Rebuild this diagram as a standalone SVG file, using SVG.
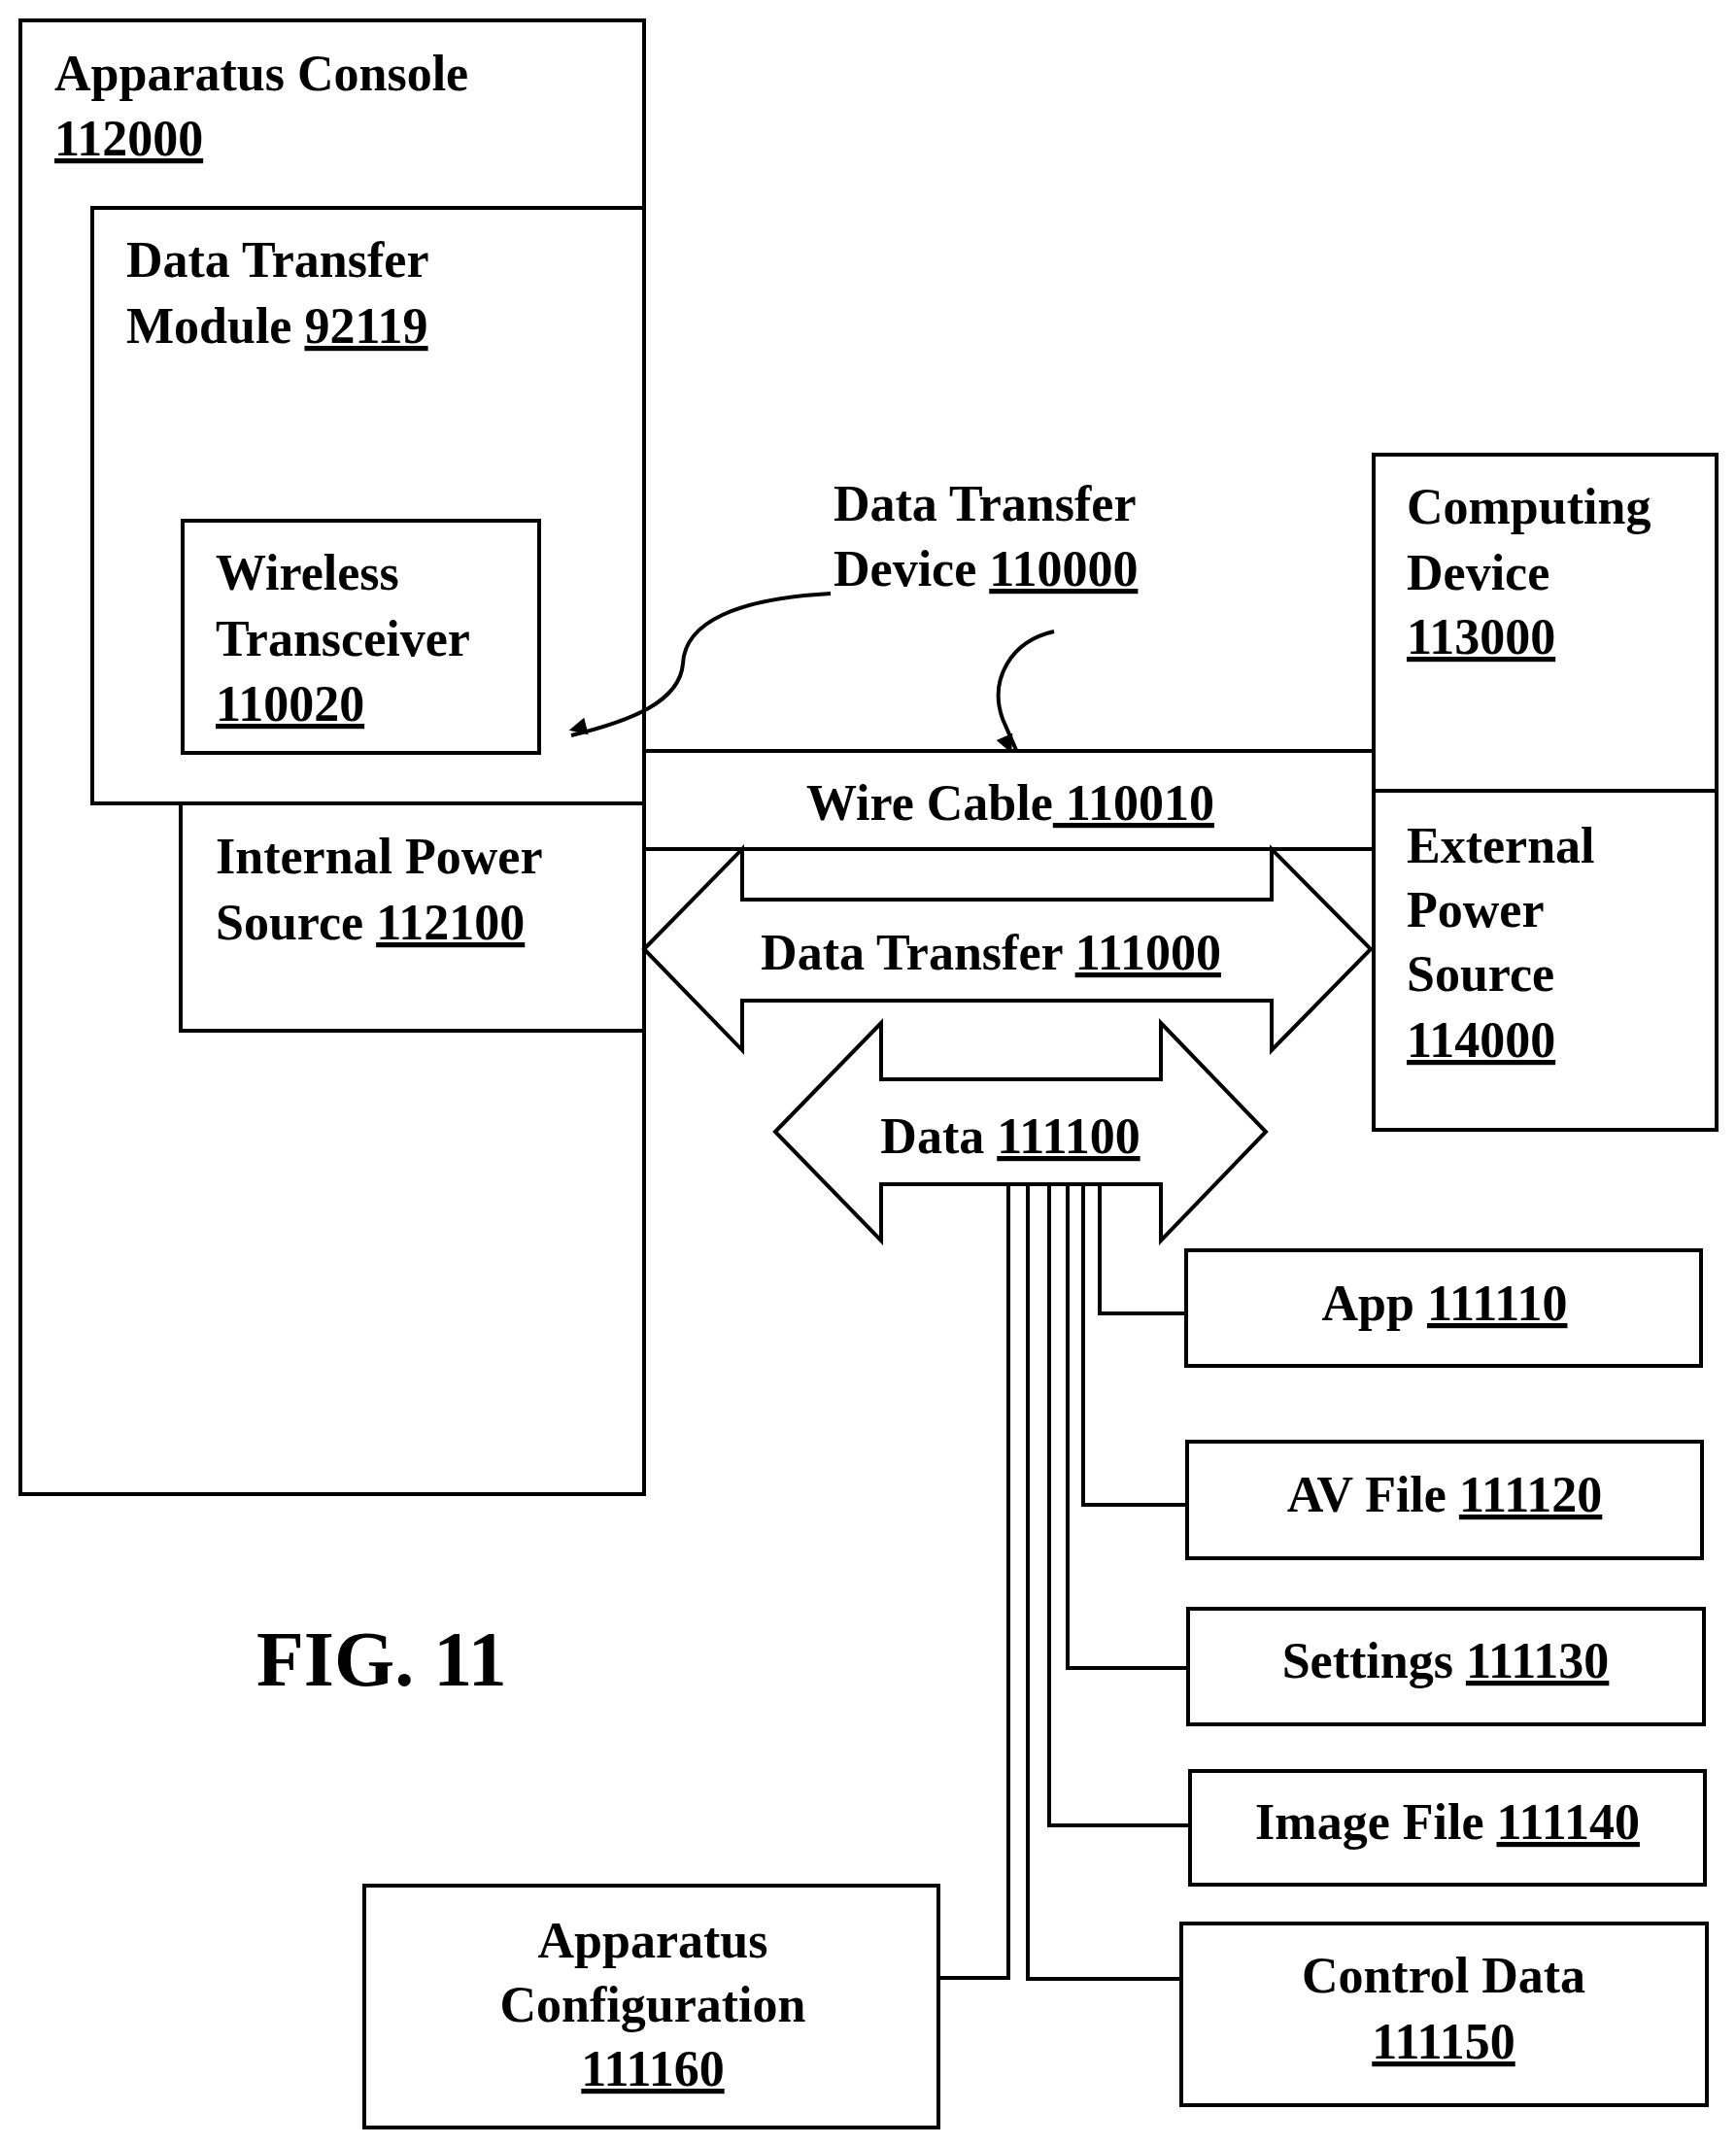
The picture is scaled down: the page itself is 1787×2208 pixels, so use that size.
<svg xmlns="http://www.w3.org/2000/svg" width="1787" height="2208" viewBox="0 0 1787 2208">
<style>
.b{fill:none;stroke:#000;stroke-width:4}
.w{fill:#fff;stroke:#000;stroke-width:4}
text{font-family:"Liberation Serif","Times New Roman",serif;font-weight:bold;font-size:52px;fill:#000}
.u{text-decoration:underline}
.c{text-anchor:middle}
</style>
<defs>
<marker id="ah" viewBox="0 0 10 10" refX="9" refY="5" markerWidth="7" markerHeight="7" orient="auto" markerUnits="userSpaceOnUse" style="overflow:visible">
<path d="M0,0 L10,5 L0,10 z" fill="#000" transform="scale(2.6) translate(-6,-0)"/>
</marker>
</defs>
<rect width="1787" height="2208" fill="#fff"/>
<g id="console"><rect class="b" x="21" y="21" width="642" height="1517"/>
<text x="56" y="93">Apparatus Console</text><text x="56" y="160"><tspan class="u">112000</tspan></text></g>
<g id="dtm"><rect class="b" x="95" y="214" width="568" height="613"/>
<text x="130" y="285">Data Transfer</text><text x="130" y="353">Module <tspan class="u">92119</tspan></text></g>
<g id="wt"><rect class="b" x="188" y="536" width="367" height="239"/>
<text x="222" y="607">Wireless</text><text x="222" y="675">Transceiver</text><text x="222" y="742"><tspan class="u">110020</tspan></text></g>
<g id="ips"><rect class="b" x="186" y="827" width="477" height="234"/>
<text x="222" y="899">Internal Power</text><text x="222" y="967">Source <tspan class="u">112100</tspan></text></g>
<g id="cable"><rect class="b" x="663" y="773" width="751" height="101"/>
<text x="1040" y="844" class="c">Wire Cable<tspan class="u"> 110010</tspan></text></g>
<g id="comp"><rect class="b" x="1414" y="468" width="353" height="346"/>
<text x="1448" y="539">Computing</text><text x="1448" y="607">Device</text><text x="1448" y="673"><tspan class="u">113000</tspan></text></g>
<g id="ext"><rect class="b" x="1414" y="814" width="353" height="349"/>
<text x="1448" y="888">External</text><text x="1448" y="954">Power</text><text x="1448" y="1020">Source</text><text x="1448" y="1088"><tspan class="u">114000</tspan></text></g>
<g id="dtd"><text x="858" y="536">Data Transfer</text><text x="858" y="603">Device <tspan class="u">110000</tspan></text></g>
<g id="dt"><path class="w" d="M663,977 L764,874 L764,926 L1309,926 L1309,874 L1411,977 L1309,1081 L1309,1030 L764,1030 L764,1081 Z"/>
<text x="1020" y="998" class="c">Data Transfer <tspan class="u">111000</tspan></text></g>
<g id="data"><path class="w" d="M798,1165 L907,1053 L907,1111 L1195,1111 L1195,1053 L1303,1165 L1195,1277 L1195,1219 L907,1219 L907,1277 Z"/>
<text x="1040" y="1187" class="c">Data <tspan class="u">111100</tspan></text></g>
<g id="connectors">
<path class="b" d="M1132,1219 V1352 H1221"/>
<path class="b" d="M1115,1219 V1549 H1222"/>
<path class="b" d="M1099,1219 V1717 H1223"/>
<path class="b" d="M1080,1219 V1879 H1225"/>
<path class="b" d="M1058,1219 V2037 H1216"/>
<path class="b" d="M1038,1219 V2036 H966"/>
<path class="b" d="M855,611 C760,616 705,640 703,683 C700,722 650,742 588,757" marker-end="url(#ah)"/>
<path class="b" d="M1085,650 C1040,660 1018,700 1032,740 L1046,772" marker-end="url(#ah)"/>
</g>
<g id="app"><rect class="b" x="1221" y="1287" width="530" height="119"/><text x="1487" y="1359" class="c">App <tspan class="u">111110</tspan></text></g>
<g id="av"><rect class="b" x="1222" y="1484" width="530" height="120"/><text x="1487" y="1556" class="c">AV File <tspan class="u">111120</tspan></text></g>
<g id="set"><rect class="b" x="1223" y="1656" width="531" height="119"/><text x="1488" y="1727" class="c">Settings <tspan class="u">111130</tspan></text></g>
<g id="img"><rect class="b" x="1225" y="1823" width="530" height="117"/><text x="1490" y="1893" class="c">Image File <tspan class="u">111140</tspan></text></g>
<g id="ctl"><rect class="b" x="1216" y="1980" width="541" height="187"/><text x="1486" y="2051" class="c">Control Data</text><text x="1486" y="2119" class="c"><tspan class="u">111150</tspan></text></g>
<g id="cfg"><rect class="b" x="375" y="1941" width="591" height="249"/><text x="672" y="2015" class="c">Apparatus</text><text x="672" y="2081" class="c">Configuration</text><text x="672" y="2147" class="c"><tspan class="u">111160</tspan></text></g>
<text x="264" y="1735" style="font-size:80px">FIG. 11</text>
</svg>
